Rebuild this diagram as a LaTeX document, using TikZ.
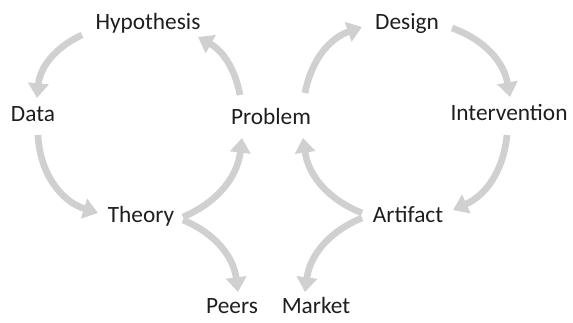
\documentclass[tikz,border=0pt]{standalone}
\usepackage{fontspec}
\setmainfont{Carlito}
\usepackage{xcolor}
\usetikzlibrary{arrows.meta, positioning, calc}
\definecolor{flowgray}{RGB}{208,208,208}
\definecolor{labelink}{RGB}{30,30,30}
\begin{document}
\begin{tikzpicture}[x=0.75pt, y=0.75pt,
    every node/.style={inner sep=0pt, text height=0.64em, text depth=0pt, text=labelink, font=\fontsize{17.5}{20}\selectfont},
    flow/.style={draw=flowgray, line width=5pt, -{Triangle[width=15pt, length=11pt]}}]
    \useasboundingbox (0,0) rectangle (573,323);
    \node (hyp) at (148,298) {Hypothesis};
    \node (data) at (33,206) {Data};
    \node (prob) at (271,203) {Problem};
    \node (theory) at (141,105) {Theory};
    \node (peers) at (232,14) {Peers};
    \node (market) at (316,14) {Market};
    \node (design) at (407,298) {Design};
    \node (interv) at (509,207) {Intervention};
    \node (artifact) at (408,105) {Artifact};
    % left loop
    \draw[flow] ($(hyp)+(-66,-10)$) to[bend right=30] ($(data)+(4,19)$);
    \draw[flow] ($(data)+(5,-18)$) to[bend right=35] ($(theory)+(-43,5)$);
    \draw[flow] ($(theory)+(42,1)$) to[bend right=30] ($(prob)+(-29,-18)$);
    \draw[flow] ($(prob)+(-31,25)$) to[bend right=25] ($(hyp)+(50,-12)$);
    \draw[flow] ($(theory)+(42,-2)$) to[bend left=30] ($(peers)+(6,17)$);
    % right loop
    \draw[flow] ($(prob)+(34,27)$) to[bend left=30] ($(design)+(-45,-2)$);
    \draw[flow] ($(design)+(45,-3)$) to[bend left=30] ($(interv)+(1,19)$);
    \draw[flow] ($(interv)+(-2,-19)$) to[bend left=30] ($(artifact)+(45,8)$);
    \draw[flow] ($(artifact)+(-46,5)$) to[bend left=30] ($(prob)+(32,-18)$);
    \draw[flow] ($(artifact)+(-46,0)$) to[bend right=30] ($(market)+(-11,17)$);
\end{tikzpicture}
\end{document}
